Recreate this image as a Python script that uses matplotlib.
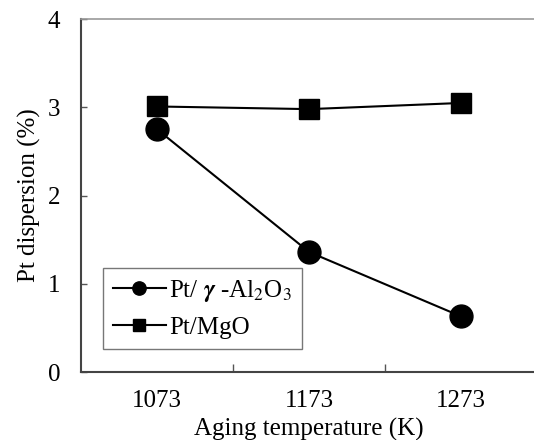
import matplotlib
matplotlib.use("Agg")
import matplotlib.pyplot as plt
from matplotlib.ticker import FixedLocator

plt.rcParams['font.family'] = 'Liberation Serif'
plt.rcParams['mathtext.fontset'] = 'stix'

temps = ['1073', '1173', '1273']
al2o3 = [2.75, 1.36, 0.63]
mgo = [3.01, 2.98, 3.05]

fig = plt.figure(figsize=(5.34, 4.4), dpi=100)
ax = fig.add_axes([0.152, 0.1545, 0.854, 0.802])

x = range(len(temps))
ax.plot(x, al2o3, color='black', lw=1.5, marker='o', ms=16.5,
        label=r'Pt/ $\boldsymbol{\gamma}$ -Al$_2$O$_3$')
ax.plot(x, mgo, color='black', lw=1.5, marker='s', ms=15,
        label='Pt/MgO')

ax.set_xlim(-0.5, 2.5)
ax.set_ylim(0, 4)
ax.set_xticks(list(x))
ax.set_xticklabels(temps)
ax.xaxis.set_minor_locator(FixedLocator([0.5, 1.5]))
ax.set_yticks([0, 1, 2, 3, 4])

ax.tick_params(axis='x', which='major', length=0, pad=13, labelsize=18)
ax.tick_params(axis='x', which='minor', direction='in', length=6, width=1, color='#555555')
ax.tick_params(axis='y', direction='in', length=4, width=1, color='#555555', pad=15, labelsize=18)

for side in ['left', 'bottom']:
    ax.spines[side].set_color('#444444')
    ax.spines[side].set_linewidth(1.5)
ax.spines['top'].set_color('#999999')
ax.spines['top'].set_linewidth(1.2)
ax.spines['right'].set_visible(False)

ax.set_xlabel('Aging temperature (K)', fontsize=18, labelpad=4)
ax.set_ylabel('Pt dispersion (%)', fontsize=18, labelpad=5)

leg = ax.legend(loc='lower left', bbox_to_anchor=(0.048, 0.065), borderaxespad=0,
                fontsize=18, markerscale=0.58, handlelength=2.1, handletextpad=0.15,
                fancybox=False, borderpad=0.4, labelspacing=0.5, framealpha=1)
leg.get_frame().set_edgecolor('#777777')
leg.get_frame().set_linewidth(1)

fig.savefig('out.png', dpi=100)
